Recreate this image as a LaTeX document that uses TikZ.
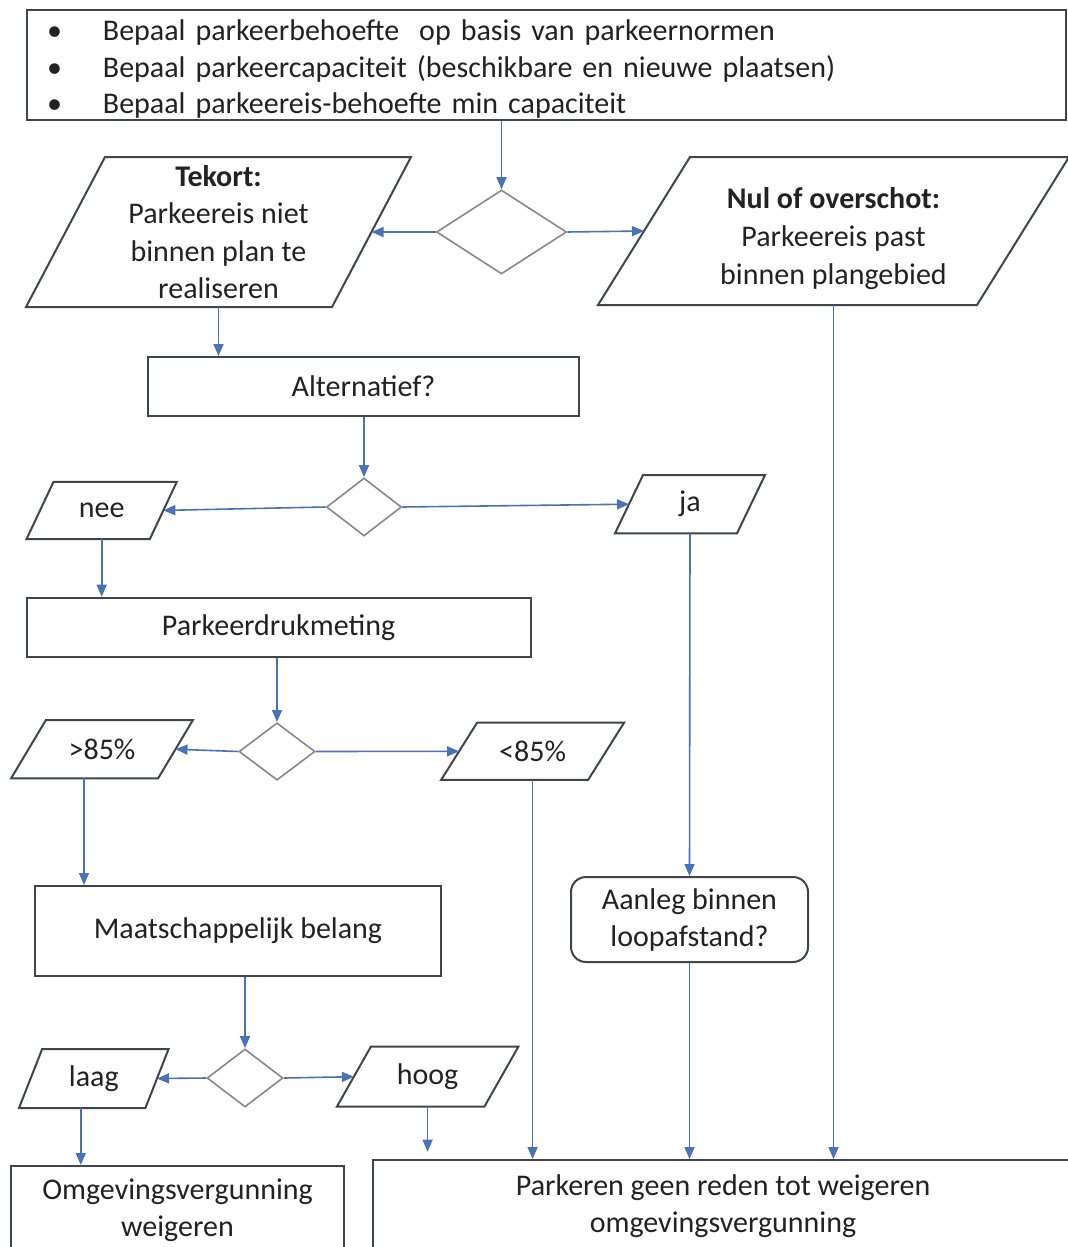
\documentclass[tikz,border=0pt]{standalone}
\usepackage{fontspec}
\setmainfont{Carlito}
\usepackage{tikz}
\usetikzlibrary{shapes.geometric,arrows.meta,positioning}
\definecolor{flowblue}{RGB}{74,114,184}
\definecolor{edgegray}{RGB}{64,68,76}
\definecolor{diagray}{RGB}{136,136,136}
\definecolor{txtgray}{RGB}{34,34,34}

\begin{document}
\begin{tikzpicture}[
        x=0.5pt, y=-0.5pt,
        proc/.style={rectangle, draw=edgegray, line width=1pt, fill=white, align=center, inner sep=0pt,
            font=\fontsize{15}{18.5}\selectfont, text=txtgray},
        io/.style={rectangle, inner sep=0pt, outer sep=0pt, align=center,
            font=\fontsize{15}{18.8}\selectfont, text=txtgray},
        para/.style={draw=edgegray, line width=1pt, line join=miter},
        choice/.style={diamond, draw=diagray, line width=0.8pt, inner sep=0pt},
        arr/.style={draw=flowblue, line width=0.8pt, -{Triangle[length=6pt,width=5pt]}},
    ]
        \useasboundingbox (0,0) rectangle (1067,1247);

        \node[proc, text width=499.5pt, inner xsep=10pt, minimum height=55pt, align=left,
            font=\fontsize{15}{18.25}\selectfont] (eis) at (546.5,65)
            {\rule{0pt}{14.5pt}\makebox[28pt][l]{\textbullet}Bepaal parkeerbehoefte\ \ op basis van parkeernormen\\
            \makebox[28pt][l]{\textbullet}Bepaal parkeercapaciteit (beschikbare en nieuwe plaatsen)\\
            \makebox[28pt][l]{\textbullet}Bepaal parkeereis-behoefte min capaciteit};

        \node[choice, minimum width=65pt, minimum height=42pt] (d1) at (501.5,232) {};

        \node[io, minimum width=153pt, minimum height=75pt] (tekort) at (218.5,232)
            {\textbf{Tekort:}\\Parkeereis niet\\binnen plan te\\realiseren};
        \draw[para] ([shift={(-39.5,0)}]tekort.south west) -- ([shift={(39.5,0)}]tekort.north west)
            -- ([shift={(39.5,0)}]tekort.north east) -- ([shift={(-39.5,0)}]tekort.south east) -- cycle;

        \node[io, minimum width=189.5pt, minimum height=74pt] (nul) at (833.5,231)
            {\rule{0pt}{18pt}\textbf{Nul of overschot:}\\Parkeereis past\\binnen plangebied};
        \draw[para] ([shift={(-46,0)}]nul.south west) -- ([shift={(46,0)}]nul.north west)
            -- ([shift={(46,0)}]nul.north east) -- ([shift={(-46,0)}]nul.south east) -- cycle;

        \node[proc, minimum width=215.5pt, minimum height=29.5pt] (alt) at (363.5,386.5) {Alternatief?};

        \node[choice, minimum width=37.5pt, minimum height=29pt] (d2) at (364,507) {};

        \node[io, minimum width=61.65pt, minimum height=28.65pt] (nee) at (101.7,510.4) {nee};
        \draw[para] ([shift={(-13.5,0)}]nee.south west) -- ([shift={(13.5,0)}]nee.north west)
            -- ([shift={(13.5,0)}]nee.north east) -- ([shift={(-13.5,0)}]nee.south east) -- cycle;

        \node[io, minimum width=61pt, minimum height=29.15pt] (ja) at (690,504.2) {ja};
        \draw[para] ([shift={(-14,0)}]ja.south west) -- ([shift={(14,0)}]ja.north west)
            -- ([shift={(14,0)}]ja.north east) -- ([shift={(-14,0)}]ja.south east) -- cycle;

        \node[proc, minimum width=252pt, minimum height=29.5pt] (pd) at (278.5,627.2) {Parkeerdrukmeting};

        \node[choice, minimum width=38pt, minimum height=28.7pt] (d3) at (277,751.5) {};

        \node[io, minimum width=73.5pt, minimum height=29.15pt] (hi) at (102,749.2) {>85\%};
        \draw[para] ([shift={(-17.4,0)}]hi.south west) -- ([shift={(17.4,0)}]hi.north west)
            -- ([shift={(17.4,0)}]hi.north east) -- ([shift={(-17.4,0)}]hi.south east) -- cycle;

        \node[io, minimum width=73.5pt, minimum height=28.65pt] (lo) at (532.6,751.3) {<85\%};
        \draw[para] ([shift={(-18,0)}]lo.south west) -- ([shift={(18,0)}]lo.north west)
            -- ([shift={(18,0)}]lo.north east) -- ([shift={(-18,0)}]lo.south east) -- cycle;

        \node[proc, rounded corners=7.5pt, minimum width=118.5pt, minimum height=42.5pt] (aan) at (689.5,919.5)
            {Aanleg binnen\\loopafstand?};

        \node[proc, minimum width=203pt, minimum height=45pt] (mb) at (238,931) {Maatschappelijk belang};

        \node[choice, minimum width=38pt, minimum height=29pt] (d4) at (245,1078) {};

        \node[io, minimum width=63.2pt, minimum height=29.5pt] (laag) at (93.8,1078.5) {laag};
        \draw[para] ([shift={(-11.6,0)}]laag.south west) -- ([shift={(11.6,0)}]laag.north west)
            -- ([shift={(11.6,0)}]laag.north east) -- ([shift={(-11.6,0)}]laag.south east) -- cycle;

        \node[io, minimum width=73.75pt, minimum height=30pt] (hoog) at (427.6,1076.7) {hoog};
        \draw[para] ([shift={(-17,0)}]hoog.south west) -- ([shift={(17,0)}]hoog.north west)
            -- ([shift={(17,0)}]hoog.north east) -- ([shift={(-17,0)}]hoog.south east) -- cycle;

        \node[proc, minimum width=166.5pt, minimum height=44pt] (om) at (177.5,1210)
            {Omgevingsvergunning\\weigeren};

        \node[proc, minimum width=350pt, minimum height=46pt] (res) at (723,1206)
            {Parkeren geen reden tot weigeren\\omgevingsvergunning};

        \coordinate (hidrop) at ([xshift=-9pt]hi.south);
        \coordinate (laagdrop) at ([xshift=-6.5pt]laag.south);
        \coordinate (hoogend) at ([yshift=-22.5pt]hoog.south);

        \draw[arr] (eis.south -| d1.north) -- (d1.north);
        \draw[arr] (d1.west) -- (tekort.east);
        \draw[arr] (d1.east) -- (nul.west);
        \draw[arr] (tekort.south) -- (alt.north -| tekort.south);
        \draw[arr] (alt.south -| d2.north) -- (d2.north);
        \draw[arr] (d2.west) -- (nee.east);
        \draw[arr] (d2.east) -- (ja.west);
        \draw[arr] (nee.south) -- (pd.north -| nee.south);
        \draw[arr] (pd.south -| d3.north) -- (d3.north);
        \draw[arr] (d3.west) -- (hi.east);
        \draw[arr] (d3.east) -- (lo.west);
        \draw[arr] (hidrop) -- (hidrop |- mb.north);
        \draw[arr] (mb.south -| d4.north) -- (d4.north);
        \draw[arr] (d4.west) -- (laag.east);
        \draw[arr] (d4.east) -- (hoog.west);
        \draw[arr] (laagdrop) -- (laagdrop |- om.north);
        \draw[arr] (hoog.south) -- (hoogend);
        \draw[arr] (lo.south) -- (res.north -| lo.south);
        \draw[arr] (ja.south) -- (aan.north);
        \draw[arr] (aan.south) -- (res.north -| aan.south);
        \draw[arr] (nul.south) -- (res.north -| nul.south);
    \end{tikzpicture}
\end{document}
